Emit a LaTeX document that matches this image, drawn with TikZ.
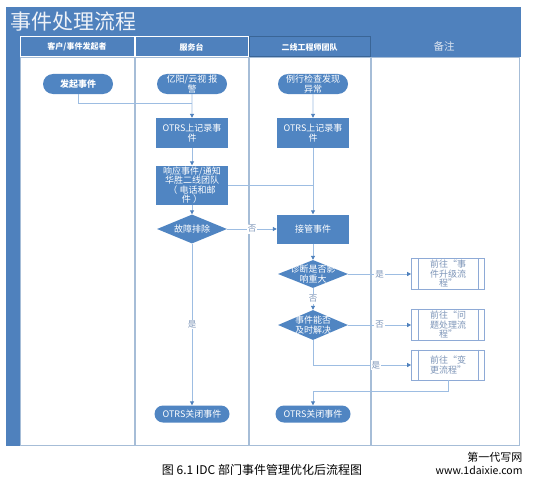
\documentclass[tikz,border=0pt]{standalone}
\usepackage{fontspec}
\setmainfont{Noto Sans CJK SC}
\usetikzlibrary{shapes.geometric,shapes.misc,arrows.meta}
\definecolor{bandblue}{HTML}{4F81BD}
\definecolor{nodeblue}{HTML}{5085C2}
\definecolor{headdark}{HTML}{3A6596}
\definecolor{laneline}{HTML}{A6BDD7}
\definecolor{linkblue}{HTML}{9DBDE2}
\definecolor{tipblue}{HTML}{4F81BD}
\definecolor{notetext}{HTML}{7D95B8}
\definecolor{subline}{HTML}{8EAAD6}
\definecolor{paleblue}{HTML}{DCE5F1}
\definecolor{titlewhite}{HTML}{EEF2F8}
\begin{document}
\begin{tikzpicture}[x=1pt, y=-1pt,
    >={Triangle[length=4pt, width=4pt, color=tipblue]},
    lane/.style={draw=laneline, line width=0.8pt, fill=white},
    head/.style={draw=white, line width=1pt, fill=bandblue, text=white, inner sep=0,
      minimum height=20, font=\fontsize{8}{8}\selectfont\bfseries},
    term/.style={rounded rectangle, fill=nodeblue, text=white, inner sep=1pt,
      minimum height=20, minimum width=72, align=center, font=\fontsize{9}{9.5}\selectfont},
    proc/.style={rectangle, fill=nodeblue, text=white, inner sep=1pt,
      minimum width=72, minimum height=30, align=center, font=\fontsize{9}{9.5}\selectfont},
    decide/.style={diamond, fill=nodeblue, inner sep=0, minimum width=70, minimum height=29},
    decidetext/.style={text=white, align=center, inner sep=0, font=\fontsize{9}{9.5}\selectfont},
    subproc/.style={rectangle, draw=subline, line width=0.8pt, fill=white, text=notetext,
      minimum width=73, minimum height=31, inner sep=1pt, align=center,
      font=\fontsize{9}{9.5}\selectfont},
    link/.style={draw=linkblue, line width=0.9pt},
    flow/.style={link, ->},
    answer/.style={fill=white, text=notetext, inner sep=1pt, font=\fontsize{8.5}{8.5}\selectfont}
  ]
  \useasboundingbox (0,0) rectangle (534,484);

  % Frame and lanes
  \fill[bandblue] (6,7) rectangle (521,57);
  \fill[bandblue] (6,57) rectangle (20,446);
  \draw[lane] (20,57) rectangle (134,445);
  \draw[lane] (135,57) rectangle (248,445);
  \draw[lane] (249,57) rectangle (370,445);
  \draw[lane] (371,57) rectangle (519,445);

  \node[anchor=west, inner sep=0, text=titlewhite, font=\fontsize{21}{21}\selectfont]
    (title) at (10,22) {事件处理流程};
  \node[head, minimum width=114] (h1) at (77,47) {客户/事件发起者};
  \node[head, minimum width=113] (h2) at (191.5,47) {服务台};
  \node[head, minimum width=121, draw=headdark] (h3) at (309.5,47) {二线工程师团队};
  \node[text=paleblue, font=\fontsize{10.5}{10.5}\selectfont] (h4) at (444,46) {备注};

  % Start points
  \node[term, font=\fontsize{9}{9.5}\selectfont\bfseries] (start) at (78,84) {发起事件};
  \node[term] (alarm) at (192,84) {亿阳/云视 报\\警};
  \node[term] (check) at (313,84) {例行检查发现\\异常};

  % Service desk
  \node[proc] (log1) at (192,133) {OTRS上记录事\\件};
  \node[proc, minimum height=38] (notify) at (192,185)
    {响应事件/通知\\华胜二线团队\\（ 电话和邮\\件 ）};
  \node[decide] (fault) at (192,229) {};
  \node[decidetext] (fault-t) at (fault) {故障排除};
  \node[term, minimum height=17, minimum width=77] (close1) at (192,414) {OTRS关闭事件};

  % Second line team
  \node[proc] (log2) at (313,133) {OTRS上记录事\\件};
  \node[proc, minimum height=29] (take) at (313,229) {接管事件};
  \node[decide, minimum height=28] (impact) at (313,274) {};
  \node[decidetext] (impact-t) at (impact) {诊断是否影\\响重大};
  \node[decide, minimum height=30] (solve) at (313,325) {};
  \node[decidetext] (solve-t) at (solve) {事件能否\\及时解决};
  \node[term, minimum height=17, minimum width=77] (close2) at (313,414) {OTRS关闭事件};

  % Notes
  \node[subproc] (escal) at (448,274) {前往“事\\件升级流\\程”};
  \node[subproc] (problem) at (448,325) {前往“问\\题处理流\\程”};
  \node[subproc, minimum height=30] (change) at (448,365) {前往“变\\更流程”};
  \foreach \p in {escal,problem,change} {
    \draw[subline, line width=0.8pt] ([xshift=7pt]\p.north west) -- ([xshift=7pt]\p.south west);
    \draw[subline, line width=0.8pt] ([xshift=-7pt]\p.north east) -- ([xshift=-7pt]\p.south east);
  }

  % Connectors
  \coordinate (j1) at (192,103);
  \draw[link] (start.south) |- (j1);
  \draw[flow] (alarm) -- (log1);
  \draw[flow] (log1) -- (notify);
  \draw[flow] (notify) -- (fault);
  \draw[flow] (check) -- (log2);
  \draw[flow] (log2) -- (take);
  \draw[link] (notify.east) -- (notify.east -| take.north);
  \draw[flow] (fault) -- node[answer] {否} (take);
  \draw[flow] (fault) -- node[answer] {是} (close1);
  \draw[flow] (take) -- (impact);
  \draw[flow] (impact) -- node[answer] {否} (solve);
  \draw[flow] (impact) -- node[answer] {是} (escal);
  \draw[flow] (solve) -- node[answer] {否} (problem);
  \draw[flow] (solve) |- node[answer, pos=0.82] {是} (change);
  \coordinate (j3) at (313,391);
  \draw[flow] (change) |- (j3) -- (close2);

  % Caption
  \node[font=\fontsize{12}{12}\selectfont] (caption) at (262,470) {图 6.1 IDC 部门事件管理优化后流程图};
  \node[anchor=east, font=\fontsize{11}{11}\selectfont] (mark1) at (526,457) {第一代写网};
  \node[anchor=east, font=\fontsize{10.5}{10.5}\selectfont] (mark2) at (526,470) {www.1daixie.com};
\end{tikzpicture}
\end{document}
